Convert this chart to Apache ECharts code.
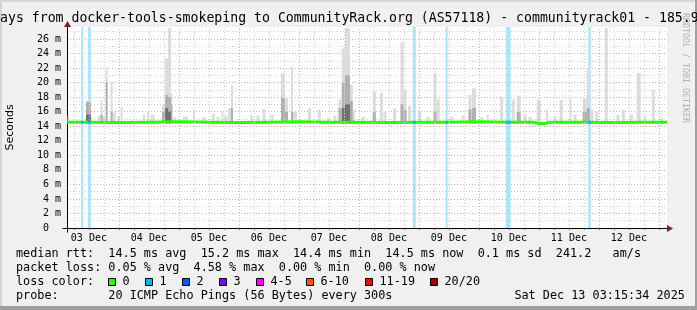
<!DOCTYPE html>
<html><head><meta charset="utf-8">
<script src="https://cdn.jsdelivr.net/npm/echarts@6/dist/echarts.min.js"></script>
<style>html,body{margin:0;padding:0;background:#f0f0f0}#c{width:697px;height:310px}</style>
</head><body><div id="c"></div>
<script>
// ---------------- data (hours since 03 Dec 00:00) ----------------
const startHour = 3.25, endHour = 243.25;
const yMax = 27.65;
const dayLabels = ['03 Dec','04 Dec','05 Dec','06 Dec','07 Dec','08 Dec','09 Dec','10 Dec','11 Dec','12 Dec'];
const dayLabelHours = [12,36,60,84,108,132,156,180,204,228];

// smoke spikes: time, width (h), top (ms), mid-grey level (ms, 0 = none), dark level (ms, 0 = none)
const smokeFloor = 14.4;
const smokeHour  = [3.8,11.85,17.05,17.1,19.1,21.1,22.2,23.85,25.1,34.05,35.65,37.45,41.85,43.1,44.25,45.0,46.45,50.65,54.05,58.05,61.75,63.65,65.45,66.85,68.25,69.25,77.1,79.65,82.05,85.25,
  89.65,91.05,93.25,94.45,100.25,104.17,107.8,110.45,112.45,113.77,115.45,116.97,117.77,121.77,126.17,129.05,130.45,134.25,137.25,138.45,140.25,144.25,147.65,150.45,151.77,157.13,161.77,164.45,166.05,
  169.13,171.53,177.13,181.77,183.93,186.45,188.45,191.93,195.25,198.45,200.97,204.65,206.45,210.33,211.77,213.25,215.13,218.97,223.65,225.77,228.97,231.93,234.45,237.77,241.13];
const smokeWidth = [0.6,2.0,2.8,0.8,0.8,0.8,1.2,1.2,0.8,0.8,0.8,1.6,1.2,1.2,1.2,0.8,1.2,2.0,0.8,2.0,1.2,1.2,0.8,1.2,1.2,0.8,1.2,1.2,1.2,1.2,
  1.6,1.2,0.8,1.6,1.2,1.2,1.2,1.2,1.2,1.2,2.0,1.2,1.2,1.2,1.2,1.2,1.2,1.2,1.2,1.2,1.2,1.2,1.2,1.2,1.2,1.2,1.2,1.2,1.6,
  1.2,0.8,1.2,1.2,1.6,1.2,1.2,1.6,0.8,1.2,1.2,0.8,1.2,1.6,1.2,1.2,1.2,1.2,1.2,1.2,1.2,1.6,1.2,1.2,1.2];
const smokeTop   = [15.5,17.5,15.4,17.6,22.2,20.1,15.9,15.3,16.7,15.6,16.0,15.6,16.9,23.3,27.5,18.5,15.3,15.3,16.3,15.2,15.7,15.3,16.0,15.5,16.5,19.6,15.5,15.5,16.4,15.6,
  21.3,17.8,22.2,16.0,16.5,16.3,15.2,15.5,17.7,24.7,27.5,19.7,16.3,15.3,18.8,18.6,16.0,16.5,25.6,19.0,16.8,16.0,15.3,21.3,17.7,15.3,15.5,18.3,19.2,
  15.3,15.6,18.1,17.7,18.2,15.6,15.3,17.6,16.3,15.3,17.6,17.7,15.6,17.8,22.0,16.3,16.0,27.5,15.6,16.3,15.6,21.3,15.3,19.0,15.2];
const smokeMid   = [0,17.3,0,15.6,20.1,16.0,0,0,0,0,0,0,16.0,18.3,18.0,17.0,0,0,0,0,0,0,0,0,0,16.5,0,0,0,0,
  17.9,16.0,16.0,0,0,0,0,0,16.5,20.0,21.0,17.5,0,0,16.0,0,0,0,17.0,16.2,0,0,0,16.0,0,0,0,16.3,16.5,
  0,0,0,0,16.0,0,0,0,0,0,0,0,0,16.0,16.5,0,0,0,0,0,0,0,0,0,0];
const smokeDark  = [0,15.6,0,0,0,0,0,0,0,0,0,0,0,16.5,16.0,0,0,0,0,0,0,0,0,0,0,0,0,0,0,0,
  0,0,0,0,0,0,0,0,0,16.5,17.0,0,0,0,0,0,0,0,0,0,0,0,0,0,0,0,0,0,0,
  0,0,0,0,0,0,0,0,0,0,0,0,0,0,0,0,0,0,0,0,0,0,0,0,0];

// packet loss events (1 of 20 lost)
const lossHour   = [9.33,12.17,142.17,155.13,179.77,212.25];
const lossWidth  = [0.8,1.2,1.2,0.8,1.8,1.0];
const lossMedian = [14.55,14.55,14.55,14.55,14.55,14.55];

// median rtt
const medianHour = [3.25,12,24,36,48,60,72,84,96,108,120,132,144,156,168,180,190,192,195,196,210,222,234,243.25];
const medianVal  = [14.55,14.55,14.5,14.55,14.6,14.55,14.5,14.55,14.6,14.55,14.55,14.5,14.55,14.55,14.6,14.55,14.55,14.38,14.38,14.55,14.55,14.5,14.55,14.55];

// legend
const legendLines = [
  'median rtt:  14.5 ms avg  15.2 ms max  14.4 ms min  14.5 ms now  0.1 ms sd  241.2   am/s',
  'packet loss: 0.05 % avg  4.58 % max  0.00 % min  0.00 % now',
  'loss color:',
  'probe:       20 ICMP Echo Pings (56 Bytes) every 300s'
];
const dateText = 'Sat Dec 13 03:15:34 2025';
const lossColorLabels = ['0','1','2','3','4-5','6-10','11-19','20/20'];
const lossColors = ['#26ff00','#00b8ff','#0059ff','#7e00ff','#ff00ff','#ff5500','#ff0000','#a10000'];
const titleText = 'ays from docker-tools-smokeping to CommunityRack.org (AS57118) - communityrack01 - 185.9';

// ---------------- chart ----------------
const MONO = "'DejaVu Sans Mono', monospace";
const gridHours = [];
for (let h = 6; h <= 240; h += 6) gridHours.push(h);

const chart = echarts.init(document.getElementById('c'), null, {renderer: 'canvas'});

function rectRender(params, api) {
  const x = api.value(0), w = api.value(1), lo = api.value(2), hi = api.value(3);
  const p1 = api.coord([x - w / 2, hi]);
  const p2 = api.coord([x + w / 2, lo]);
  return {type: 'rect', shape: {x: p1[0], y: p1[1], width: p2[0] - p1[0], height: p2[1] - p1[1]},
          style: {fill: api.visual('color')}};
}
function rectSeries(data, color, z) {
  return {type: 'custom', renderItem: rectRender, data: data, z: z, silent: true, clip: true,
          itemStyle: {color: color}, encode: {x: 0, y: [2, 3]}, animation: false};
}

const lightData = smokeHour.map((h, i) => [h, smokeWidth[i], smokeFloor, smokeTop[i]]);
const midData = smokeHour.map((h, i) => [h, smokeWidth[i], smokeFloor, smokeMid[i]]).filter(d => d[3] > 0);
const darkData = smokeHour.map((h, i) => [h, smokeWidth[i], smokeFloor, smokeDark[i]]).filter(d => d[3] > 0);
const lossBand = lossHour.map((h, i) => [h, lossWidth[i], 0, yMax]);
const lossSeg = lossHour.map((h, i) => [h, lossWidth[i], lossMedian[i] - 0.2, lossMedian[i] + 0.2]);

chart.setOption({
  animation: false,
  backgroundColor: '#f0f0f0',
  grid: {left: 67, right: 30, top: 27, bottom: 82, show: true, backgroundColor: '#ffffff', borderWidth: 0},
  xAxis: {
    type: 'value', min: startHour, max: endHour,
    axisLine: {show: true, onZero: false, lineStyle: {color: '#000', width: 1}},
    axisTick: {show: true, customValues: gridHours, length: 2, lineStyle: {color: '#666'}},
    axisLabel: {show: true, customValues: dayLabelHours, margin: 5, fontFamily: MONO, fontSize: 10, color: '#000',
      formatter: v => { const i = dayLabelHours.indexOf(Math.round(v)); return i >= 0 ? dayLabels[i] : ''; }},
    splitLine: {show: false}
  },
  yAxis: {
    type: 'value', min: 0, max: yMax, interval: 1,
    axisLine: {show: true, lineStyle: {color: '#000', width: 1}},
    axisTick: {show: false},
    axisLabel: {margin: 6, fontFamily: MONO, fontSize: 10, color: '#000', showMaxLabel: false,
      formatter: v => { const r = Math.round(v); if (Math.abs(v - r) > 1e-6) return ''; if (r === 0) return '0  '; return r % 2 === 0 ? r + ' m' : ''; }},
    splitLine: {show: true, showMinLine: true, showMaxLine: false, lineStyle: {color: ['#e6a6a6', '#d0d0d0'], type: [1, 2], width: 1}}
  },
  series: [
    {type: 'line', data: [], z: 1, silent: true, animation: false,
      markLine: {silent: true, symbol: ['none', 'none'], label: {show: false}, animation: false,
        data: gridHours.map(h => ({xAxis: h, lineStyle: {color: h % 24 === 0 ? '#e6a6a6' : '#d0d0d0', type: [1, 2], width: 1}}))}},
    rectSeries(lossBand, '#aae6fb', 2),
    rectSeries(lightData, '#dcdcdc', 3),
    rectSeries(midData, '#b0b0b0', 3),
    rectSeries(darkData, '#707070', 3),
    {type: 'line', data: medianHour.map((h, i) => [h, medianVal[i]]), z: 4, showSymbol: false, symbol: 'none',
      silent: true, animation: false, lineStyle: {color: '#26ff00', width: 3}},
    rectSeries(lossSeg, '#00b8ff', 5)
  ]
});

// ---------------- decorations ----------------
const o = chart.convertToPixel({gridIndex: 0}, [startHour, 0]);
const xe = chart.convertToPixel({gridIndex: 0}, [endHour, 0]);
const yt = chart.convertToPixel({gridIndex: 0}, [startHour, yMax]);
const ox = Math.round(o[0]) + 0.5, oy = Math.round(o[1]) + 0.5;
const plotMidY = (o[1] + yt[1]) / 2;
const arrowColor = '#8b1a1a';
const g = [];
// frame
g.push({type: 'rect', shape: {x: 0, y: 0, width: 697, height: 2}, style: {fill: '#d6d6d6'}, z: 1});
g.push({type: 'rect', shape: {x: 0, y: 0, width: 2, height: 310}, style: {fill: '#d6d6d6'}, z: 1});
g.push({type: 'rect', shape: {x: 0, y: 306, width: 697, height: 4}, style: {fill: '#a0a0a0'}, z: 1});
g.push({type: 'rect', shape: {x: 695, y: 0, width: 2, height: 310}, style: {fill: '#a0a0a0'}, z: 1});
// watermark
g.push({type: 'text', x: 685.5, y: 68, rotation: -Math.PI / 2, z: 2,
  style: {text: 'RRDTOOL / TOBI OETIKER', font: "8.3px " + MONO, fill: '#b0b0b0', textAlign: 'center', textVerticalAlign: 'middle', align: 'center', verticalAlign: 'middle'}});
// title
g.push({type: 'text', x: 0, y: 18.5, z: 3,
  style: {text: titleText, font: "13.2px " + MONO, fill: '#000', textAlign: 'left', textVerticalAlign: 'middle', align: 'left', verticalAlign: 'middle'}});
// y axis name
g.push({type: 'text', x: 10.5, y: plotMidY, rotation: Math.PI / 2, z: 3,
  style: {text: 'Seconds', font: "11px 'DejaVu Sans', sans-serif", fill: '#000', textAlign: 'center', textVerticalAlign: 'middle', align: 'center', verticalAlign: 'middle'}});
// axis extensions and arrows
g.push({type: 'line', shape: {x1: ox - 5, y1: oy, x2: ox, y2: oy}, style: {stroke: '#000', lineWidth: 1}, z: 20});
g.push({type: 'line', shape: {x1: ox, y1: oy, x2: ox, y2: oy + 4}, style: {stroke: '#000', lineWidth: 1}, z: 20});
g.push({type: 'polygon', shape: {points: [[xe[0], oy - 3.5], [xe[0] + 6, oy], [xe[0], oy + 3.5]]}, style: {fill: arrowColor}, z: 20});
g.push({type: 'polygon', shape: {points: [[ox - 3.5, yt[1]], [ox, yt[1] - 6], [ox + 3.5, yt[1]]]}, style: {fill: arrowColor}, z: 20});
// legend
const LF = "11.8px " + MONO;
const lineY = [253.5, 267.5, 281.5, 295.5];
legendLines.forEach((t, i) => g.push({type: 'text', x: 16, y: lineY[i], z: 3,
  style: {text: t, font: LF, fill: '#000', textAlign: 'left', textVerticalAlign: 'middle', align: 'left', verticalAlign: 'middle'}}));
g.push({type: 'text', x: 16 + 70 * 7.12, y: lineY[3], z: 3,
  style: {text: dateText, font: LF, fill: '#000', textAlign: 'left', textVerticalAlign: 'middle', align: 'left', verticalAlign: 'middle'}});
const boxX = [108.5, 145.5, 182.5, 219.5, 256.5, 306.5, 365.5, 430.5];
lossColorLabels.forEach((lab, i) => {
  g.push({type: 'rect', shape: {x: boxX[i], y: 278.5, width: 7, height: 7}, style: {fill: lossColors[i], stroke: '#000', lineWidth: 1}, z: 3});
  g.push({type: 'text', x: boxX[i] + 14, y: lineY[2], z: 3,
    style: {text: lab, font: LF, fill: '#000', textAlign: 'left', textVerticalAlign: 'middle', align: 'left', verticalAlign: 'middle'}});
});
chart.setOption({graphic: g});
</script></body></html>
